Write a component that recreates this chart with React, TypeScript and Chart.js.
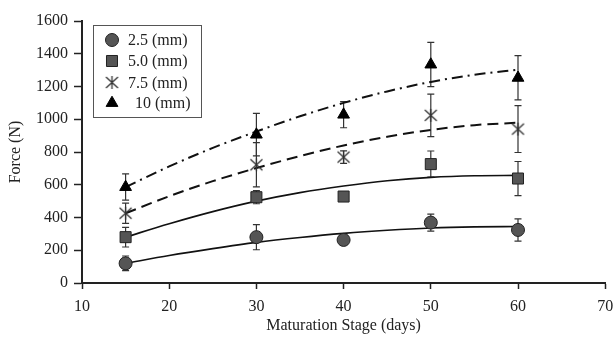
import React, { useEffect, useRef } from 'react';
import { Chart, registerables } from 'chart.js';
import { drawPoint } from 'chart.js/helpers';

Chart.register(...registerables);

// Measured points (days vs force)
const days = [15, 30, 40, 50, 60];
const force25 = [120, 280, 263, 369, 324];
const err25 = [45, 77, 10, 52, 68];
const force50 = [280, 524, 528, 726, 638];
const err50 = [60, 40, 12, 80, 104];
const force75 = [426, 722, 769, 1024, 940];
const err75 = [62, 135, 38, 130, 143];
const force10 = [586, 906, 1028, 1334, 1253];
const err10 = [80, 130, 80, 135, 135];

// Fitted trend curves
const curveDays = [15, 20, 25, 30, 35, 40, 45, 50, 55, 60];
const fit25 = [120, 168, 210, 248, 278, 303, 322, 336, 343, 345];
const fit50 = [280, 362, 436, 500, 552, 592, 624, 645, 655, 657];
const fit75 = [426, 530, 622, 702, 775, 840, 893, 935, 964, 979];
const fit10 = [586, 712, 825, 925, 1018, 1100, 1170, 1228, 1272, 1303];

const seriesLabels = ['2.5 (mm)', '5.0 (mm)', '7.5 (mm)', '10 (mm)'];
const xTitle = 'Maturation Stage (days)';
const yTitle = 'Force (N)';

const FONT = "'Liberation Serif', 'Times New Roman', serif";

function makeAsterisk(): HTMLCanvasElement {
  const c = document.createElement('canvas');
  c.width = 15;
  c.height = 15;
  const ctx = c.getContext('2d')!;
  ctx.strokeStyle = '#333';
  ctx.lineWidth = 1.3;
  ctx.beginPath();
  ctx.moveTo(7.5, 1);
  ctx.lineTo(7.5, 14);
  ctx.moveTo(1.5, 2);
  ctx.lineTo(13.5, 13);
  ctx.moveTo(1.5, 13);
  ctx.lineTo(13.5, 2);
  ctx.stroke();
  return c;
}

const pts = (xs: number[], ys: number[]) => xs.map((x, i) => ({ x, y: ys[i] }));

export default function App() {
  const ref = useRef<HTMLCanvasElement | null>(null);

  useEffect(() => {
    if (!ref.current) return;
    const asterisk = makeAsterisk();
    const errors = [err25, err50, err75, err10];

    const markerStyles: any[] = [
      { pointStyle: 'circle', pointRadius: 6.5, backgroundColor: '#555', borderColor: '#222', borderWidth: 1 },
      { pointStyle: 'rect', pointRadius: 7.8, backgroundColor: '#555', borderColor: '#222', borderWidth: 1 },
      { pointStyle: asterisk, pointRadius: 7, backgroundColor: '#333', borderColor: '#333', borderWidth: 1 },
      { pointStyle: 'triangle', pointRadius: 6.8, backgroundColor: '#000', borderColor: '#000', borderWidth: 1 },
    ];

    const errorBars = {
      id: 'errorBars',
      beforeDatasetsDraw(chart: any) {
        const ctx = chart.ctx;
        const ys = chart.scales.y;
        ctx.save();
        ctx.strokeStyle = '#333';
        ctx.lineWidth = 1.2;
        for (let d = 0; d < 4; d++) {
          const meta = chart.getDatasetMeta(d);
          const ds = chart.data.datasets[d];
          meta.data.forEach((el: any, i: number) => {
            const v = ds.data[i].y;
            const e = errors[d][i];
            const top = ys.getPixelForValue(v + e);
            const bot = ys.getPixelForValue(v - e);
            const x = el.x;
            ctx.beginPath();
            ctx.moveTo(x, top);
            ctx.lineTo(x, bot);
            ctx.moveTo(x - 3.5, top);
            ctx.lineTo(x + 3.5, top);
            ctx.moveTo(x - 3.5, bot);
            ctx.lineTo(x + 3.5, bot);
            ctx.stroke();
          });
        }
        ctx.restore();
      },
    };

    const legendBox = {
      id: 'legendBox',
      afterDraw(chart: any) {
        const ctx = chart.ctx;
        ctx.save();
        ctx.strokeStyle = '#555';
        ctx.lineWidth = 1;
        ctx.fillStyle = '#fff';
        ctx.fillRect(93.5, 25.5, 108, 92);
        ctx.strokeRect(93.5, 25.5, 108, 92);
        const rows = [40, 61, 82.5, 103];
        ctx.font = `16px ${FONT}`;
        ctx.textBaseline = 'middle';
        for (let i = 0; i < 4; i++) {
          const s = markerStyles[i];
          ctx.fillStyle = s.backgroundColor;
          ctx.strokeStyle = s.borderColor;
          ctx.lineWidth = s.borderWidth;
          drawPoint(ctx, { pointStyle: s.pointStyle, radius: s.pointRadius, borderWidth: s.borderWidth, rotation: 0 } as any, 112, rows[i]);
          ctx.fillStyle = '#222';
          ctx.fillText(seriesLabels[i], i === 3 ? 135 : 128, rows[i] + 1);
        }
        ctx.restore();
      },
    };

    const chart = new Chart(ref.current, {
      type: 'scatter',
      data: {
        datasets: [
          { label: seriesLabels[0], data: pts(days, force25), ...markerStyles[0] },
          { label: seriesLabels[1], data: pts(days, force50), ...markerStyles[1] },
          { label: seriesLabels[2], data: pts(days, force75), ...markerStyles[2] },
          { label: seriesLabels[3], data: pts(days, force10), ...markerStyles[3] },
          { label: 'fit 2.5', data: pts(curveDays, fit25), showLine: true, pointRadius: 0, borderColor: '#111', borderWidth: 1.6, cubicInterpolationMode: 'monotone' },
          { label: 'fit 5.0', data: pts(curveDays, fit50), showLine: true, pointRadius: 0, borderColor: '#111', borderWidth: 1.6, cubicInterpolationMode: 'monotone' },
          { label: 'fit 7.5', data: pts(curveDays, fit75), showLine: true, pointRadius: 0, borderColor: '#111', borderWidth: 2, borderDash: [11, 6], cubicInterpolationMode: 'monotone' },
          { label: 'fit 10', data: pts(curveDays, fit10), showLine: true, pointRadius: 0, borderColor: '#111', borderWidth: 2, borderDash: [11, 5, 2, 5], cubicInterpolationMode: 'monotone' },
        ] as any,
      },
      options: {
        responsive: false,
        animation: false,
        layout: { padding: { top: 21, right: 7, left: 0, bottom: 0 } },
        plugins: { legend: { display: false }, tooltip: { enabled: false } },
        scales: {
          x: {
            type: 'linear',
            min: 10,
            max: 70,
            afterFit: (s: any) => { s.height = 59; s.paddingLeft = 0; s.paddingRight = 0; },
            ticks: { stepSize: 10, font: { family: FONT, size: 16 }, color: '#222', padding: 8, callback: (v: any) => String(v) },
            grid: { drawOnChartArea: false, drawTicks: true, tickLength: 6, tickColor: '#222', tickWidth: 1.5 },
            border: { color: '#222', width: 2 },
            title: { display: true, text: xTitle, font: { family: FONT, size: 16 }, color: '#222', padding: { top: 4, bottom: 7 } },
          },
          y: {
            min: 0,
            max: 1600,
            afterFit: (s: any) => { s.width = 82; s.paddingTop = 0; s.paddingBottom = 0; },
            ticks: { stepSize: 200, font: { family: FONT, size: 16 }, color: '#222', padding: 6, callback: (v: any) => String(v) },
            grid: { drawOnChartArea: false, drawTicks: true, tickLength: 8, tickColor: '#222', tickWidth: 1.5 },
            border: { color: '#222', width: 2 },
            title: { display: true, text: yTitle, font: { family: FONT, size: 16 }, color: '#222', padding: { top: 6, bottom: 0 } },
          },
        },
      } as any,
      plugins: [errorBars, legendBox],
    });
    return () => chart.destroy();
  }, []);

  return (
    <div style={{ position: 'absolute', left: 0, top: 0, width: 614, height: 342, background: '#fff' }}>
      <canvas ref={ref} width={614} height={342} style={{ width: 614, height: 342, display: 'block' }} />
    </div>
  );
}
